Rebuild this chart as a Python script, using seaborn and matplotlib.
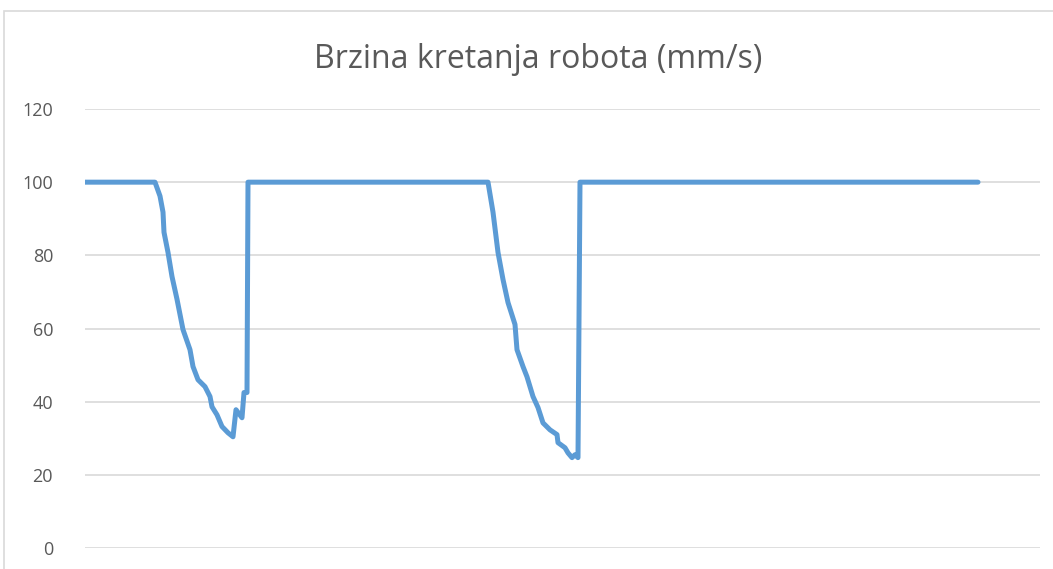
import matplotlib
matplotlib.use("Agg")
import matplotlib.pyplot as plt
from matplotlib.patches import Rectangle
import seaborn as sns
import pandas as pd

# sample index (time) and robot speed (mm/s)
sample = [0, 70, 75, 78, 79, 83, 87, 92, 98, 105, 108, 113, 120, 125, 127, 132,
          137, 143, 148, 151, 157, 159, 162, 163,
          403, 408, 413, 418, 423, 430, 432, 438, 442, 448, 453, 458, 465, 472,
          473, 480, 483, 487, 490, 493, 495, 893]
speed = [100, 100, 96.2, 91.8, 86.3, 80.8, 74.2, 68, 59.7, 54.2, 49.6, 46, 44.1,
         41.4, 38.6, 36.4, 33.2, 31.5, 30.4, 37.8, 35.6, 42.5, 42.5, 100,
         100, 91.8, 80.8, 73.4, 67.1, 61.1, 54.2, 49.6, 46.8, 41.4, 38.4, 34.2,
         32.3, 31, 28.8, 27.4, 26, 24.7, 25.5, 24.7, 100, 100]

title = "Brzina kretanja robota (mm/s)"
y_ticks = [0, 20, 40, 60, 80, 100, 120]

df = pd.DataFrame({"sample": sample, "speed": speed})

sns.set_theme(style="white")
plt.rcParams["font.family"] = ["Open Sans", "DejaVu Sans"]

W, H = 1053, 569
fig = plt.figure(figsize=(W / 100, H / 100), dpi=100)
ax = fig.add_axes([85 / W, 1 - 548 / H, (1040 - 85) / W, (548 - 109) / H])

# chart frame border
fig.patches.append(Rectangle((4 / W, -0.1), 1.2, 1 - 11 / H + 0.1,
                             transform=fig.transFigure, fill=False,
                             edgecolor="#d9d9d9", linewidth=1.2))

sns.lineplot(data=df, x="sample", y="speed", ax=ax, color="#5b9bd5",
             linewidth=3.6, estimator=None, sort=False)

ax.set_xlim(0, 955)
ax.set_ylim(0, 120)
ax.set_yticks(y_ticks)
ax.set_yticklabels([str(v) for v in y_ticks], color="#595959", fontsize=13)
ax.set_xticks([])
ax.yaxis.grid(True, color="#d9d9d9", linewidth=1.2)
ax.set_axisbelow(True)
ax.tick_params(axis="y", length=0, pad=23)
for s in ax.spines.values():
    s.set_visible(False)
ax.set_xlabel("")
ax.set_ylabel("")

fig.text(538 / W, 1 - 59 / H, title, ha="center", va="center",
         color="#595959", fontsize=23)

fig.savefig("out.png", dpi=100)
